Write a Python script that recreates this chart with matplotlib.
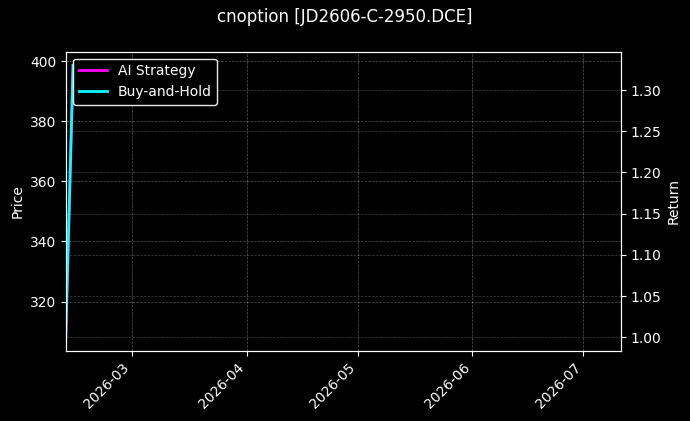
import matplotlib
matplotlib.use("Agg")
import matplotlib.pyplot as plt
import matplotlib.dates as mdates
import pandas as pd

title = "cnoption [JD2606-C-2950.DCE]"
dates = pd.to_datetime(["2026-02-11", "2026-02-13"])
price = [308.1, 398.6]
ai_return = [1.0, 1.33]
bh_return = [1.0, 1.33]
x_range = pd.to_datetime(["2026-02-11 04:00", "2026-07-11 02:00"])

plt.style.use("dark_background")
fig = plt.figure(figsize=(6.9, 4.21), dpi=100)
ax1 = fig.add_axes([0.0961, 0.1663, 0.8035, 0.7109])
ax2 = ax1.twinx()

ax1.plot(dates, price, color="white", linewidth=1.0, alpha=0.6, label="Price")
ax2.plot(dates, ai_return, color="magenta", linewidth=2, label="AI Strategy")
ax2.plot(dates, bh_return, color="cyan", linewidth=2, label="Buy-and-Hold")

ax1.set_xlim(x_range[0], x_range[1])
ax1.set_ylabel("Price")
ax2.set_ylabel("Return")
ax1.grid(True, linestyle="--", linewidth=0.5, alpha=0.35)
ax2.grid(True, linestyle="--", linewidth=0.5, alpha=0.25)

ax1.xaxis.set_major_locator(mdates.MonthLocator())
ax1.xaxis.set_major_formatter(mdates.DateFormatter("%Y-%m"))
for lbl in ax1.get_xticklabels():
    lbl.set_rotation(45)
    lbl.set_ha("right")

ax2.legend(loc="upper left", facecolor="black", edgecolor="white", framealpha=0.9)
fig.suptitle(title, fontsize=12)

fig.savefig("out.png", dpi=100, facecolor="black")
